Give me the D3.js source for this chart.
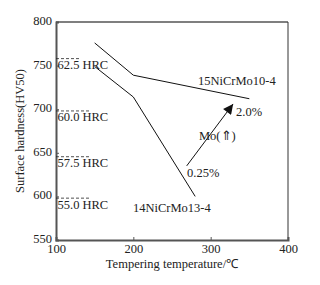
<!DOCTYPE html>
<html><head><meta charset="utf-8">
<script src="https://cdn.jsdelivr.net/npm/d3@7"></script>
<style>
html,body{margin:0;padding:0;background:#fff;}
svg text{font-family:"Times New Roman","Liberation Serif",Times,serif !important;fill:#222;}
</style></head>
<body><svg id="c" width="320" height="285"></svg>
<script>
// Data
const xTicks = [100, 200, 300, 400];
const yTicks = [550, 600, 650, 700, 750, 800];
const steel15 = [[150, 776], [200, 739], [350, 712]];
const steel14 = [[150, 749], [200, 714], [280, 600]];
const hrcLabels = ["62.5 HRC", "60.0 HRC", "57.5 HRC", "55.0 HRC"];
const hrcHV = [758, 698, 645.5, 598];
const hrcDashEnd = [130, 145, 145, 145];
const moArrow = [[269, 635], [329, 706]];
const seriesNames = ["15NiCrMo10-4", "14NiCrMo13-4"];

const FONT = "'Times New Roman','Liberation Serif',Times,serif";
const svg = d3.select("#c");
const m = {l:56, r:288, t:22, b:240};
const x = d3.scaleLinear().domain([100, 400]).range([m.l, m.r]);
const y = d3.scaleLinear().domain([550, 800]).range([m.b, m.t]);

svg.append("defs").append("marker").attr("id","ah")
  .attr("viewBox","0 0 10 10").attr("refX",10).attr("refY",5)
  .attr("markerWidth",11).attr("markerHeight",10).attr("markerUnits","userSpaceOnUse")
  .attr("orient","auto")
  .append("path").attr("d","M0,0 L10,5 L0,10 Z").attr("fill","#111");

// frame
svg.append("line").attr("x1",m.l).attr("x2",m.r).attr("y1",m.t).attr("y2",m.t).attr("stroke","#555").attr("stroke-width",1.6);
svg.append("line").attr("x1",m.r).attr("x2",m.r).attr("y1",m.t).attr("y2",m.b).attr("stroke","#333").attr("stroke-width",1);

// axes
const xAxis = svg.append("g").attr("transform",`translate(0,${m.b})`)
  .call(d3.axisBottom(x).tickValues(xTicks).tickSize(-3).tickPadding(7).tickFormat(d3.format("d")));
const yAxis = svg.append("g").attr("transform",`translate(${m.l},0)`)
  .call(d3.axisLeft(y).tickValues(yTicks).tickSize(-3).tickPadding(4).tickFormat(d3.format("d")));
[xAxis, yAxis].forEach(a=>{
  a.attr("font-family", FONT);
  a.select(".domain").attr("stroke","#555").attr("stroke-width",2);
  a.selectAll(".tick line").attr("stroke","#555");
  a.selectAll("text").attr("font-size","12.5px").attr("fill","#222");
});
xAxis.selectAll(".tick text").attr("dy","0.5em");
yAxis.selectAll(".tick text").attr("dy","0.2em");

function label(xp, yp, t){
  return svg.append("text").attr("x",xp).attr("y",yp)
    .attr("font-family",FONT).attr("font-size","12.5px").text(t);
}

// HRC dashed references
hrcHV.forEach((v,i)=>{
  svg.append("line").attr("x1",x(100)).attr("x2",x(hrcDashEnd[i]))
    .attr("y1",y(v)).attr("y2",y(v)).attr("stroke","#222").attr("stroke-width",0.8)
    .attr("stroke-dasharray","3,2");
  label(x(100)+1.5, y(v)+10.5, hrcLabels[i]);
});

// series lines
const line = d3.line().x(d=>x(d[0])).y(d=>y(d[1]));
[steel15, steel14].forEach(s=>{
  svg.append("path").datum(s).attr("d",line).attr("fill","none")
    .attr("stroke","#111").attr("stroke-width",1);
});

// arrow
svg.append("line").attr("x1",x(moArrow[0][0])).attr("y1",y(moArrow[0][1]))
  .attr("x2",x(moArrow[1][0])).attr("y2",y(moArrow[1][1]))
  .attr("stroke","#111").attr("stroke-width",1).attr("marker-end","url(#ah)");

// labels
label(198, 85, seriesNames[0]);
label(133, 212, seriesNames[1]);
label(236, 116, "2.0%");
label(199, 140, "Mo(⇑)");
label(187, 177, "0.25%");

// axis titles
label((m.l+m.r)/2, 268, "Tempering temperature/℃").attr("text-anchor","middle");
svg.append("text").attr("transform",`translate(24,${(m.t+m.b)/2}) rotate(-90)`)
  .attr("text-anchor","middle").attr("font-family",FONT).attr("font-size","12.5px")
  .text("Surface hardness(HV50)");
</script></body></html>
